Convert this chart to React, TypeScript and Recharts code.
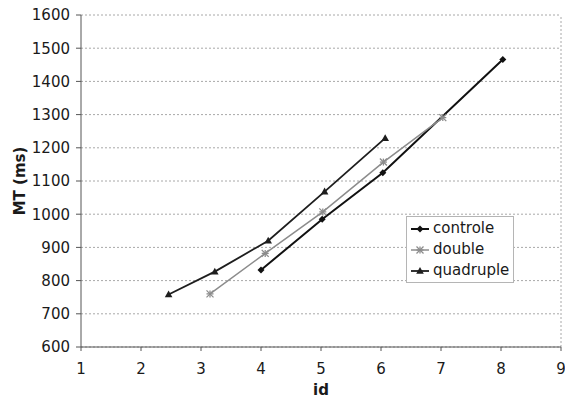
import React from "react";
import { LineChart, Line, XAxis, YAxis, CartesianGrid, Legend, ReferenceLine } from "recharts";

// id / MT (ms) per condition
const controleId = [4.0, 5.02, 6.03, 8.03];
const controleMt = [832, 985, 1125, 1466];
const doubleId = [3.15, 4.07, 5.03, 6.04, 7.03];
const doubleMt = [760, 882, 1007, 1157, 1291];
const quadrupleId = [2.46, 3.23, 4.12, 5.06, 6.07];
const quadrupleMt = [758, 827, 920, 1068, 1229];

const xTicks = [1, 2, 3, 4, 5, 6, 7, 8, 9];
const yTicks = [600, 700, 800, 900, 1000, 1100, 1200, 1300, 1400, 1500, 1600];

const FONT = "'DejaVu Sans', Verdana, sans-serif";
const INK = "#1a1a1a";

const toRows = (xs: number[], ys: number[]) => xs.map((id, i) => ({ id, mt: ys[i] }));

type Shape = "diamond" | "star" | "triangle";

function Marker({ cx, cy, shape, color }: { cx: number; cy: number; shape: Shape; color: string }) {
  if (cx == null || cy == null) return null;
  if (shape === "diamond") {
    return <path d={`M${cx},${cy - 3.5}L${cx + 3.5},${cy}L${cx},${cy + 3.5}L${cx - 3.5},${cy}Z`} fill={color} />;
  }
  if (shape === "triangle") {
    return <path d={`M${cx},${cy - 4}L${cx + 3.8},${cy + 2.8}L${cx - 3.8},${cy + 2.8}Z`} fill={color} />;
  }
  const r = 3.5;
  return (
    <g stroke={color} strokeWidth={1.3}>
      <line x1={cx - r} y1={cy - r} x2={cx + r} y2={cy + r} />
      <line x1={cx - r} y1={cy + r} x2={cx + r} y2={cy - r} />
      <line x1={cx - r} y1={cy} x2={cx + r} y2={cy} />
      <line x1={cx} y1={cy - r} x2={cx} y2={cy + r} />
    </g>
  );
}

const SERIES: { name: string; xs: number[]; ys: number[]; color: string; shape: Shape; width: number }[] = [
  { name: "controle", xs: controleId, ys: controleMt, color: "#111111", shape: "diamond", width: 2 },
  { name: "double", xs: doubleId, ys: doubleMt, color: "#8c8c8c", shape: "star", width: 1.5 },
  { name: "quadruple", xs: quadrupleId, ys: quadrupleMt, color: "#1e1e1e", shape: "triangle", width: 1.8 },
];

function LegendBox() {
  return (
    <div
      style={{
        border: "1px solid #b5b5b5",
        background: "#fff",
        padding: "1px 4px 1px 3px",
        fontFamily: FONT,
        fontSize: 15,
        color: INK,
        lineHeight: "21px",
      }}
    >
      {SERIES.map((s) => (
        <div key={s.name} style={{ display: "flex", alignItems: "center" }}>
          <svg width={20} height={12} style={{ marginRight: 3 }}>
            <line x1={1} y1={6} x2={19} y2={6} stroke={s.color} strokeWidth={s.width} />
            <Marker cx={10} cy={6} shape={s.shape} color={s.color} />
          </svg>
          <span>{s.name}</span>
        </div>
      ))}
    </div>
  );
}

export default function App() {
  const tick = { fontFamily: FONT, fontSize: 15, fill: INK };
  return (
    <div style={{ position: "absolute", left: 0, top: 0, background: "#fff" }}>
      <LineChart width={565} height={403} margin={{ top: 15, right: 4, bottom: 0, left: 0 }}>
        <CartesianGrid vertical={false} stroke="#a8a8a8" strokeDasharray="2 2" />
        <ReferenceLine x={9} stroke="#a8a8a8" strokeDasharray="2 2" />
        <XAxis
          type="number"
          dataKey="id"
          domain={[1, 9]}
          ticks={xTicks}
          allowDuplicatedCategory={false}
          height={56}
          stroke="#555"
          tickSize={4}
          tickMargin={12}
          tick={tick}
          label={{
            content: ({ viewBox }: any) => (
              <text
                x={viewBox.x + viewBox.width / 2}
                y={395}
                textAnchor="middle"
                fontFamily={FONT}
                fontSize={15}
                fontWeight="bold"
                fill={INK}
              >
                id
              </text>
            ),
          }}
        />
        <YAxis
          type="number"
          domain={[600, 1600]}
          ticks={yTicks}
          width={81}
          stroke="#555"
          tickSize={5}
          tickMargin={6}
          tick={tick}
          label={{
            content: ({ viewBox }: any) => {
              const cy = viewBox.y + viewBox.height / 2;
              return (
                <text
                  x={20}
                  y={cy}
                  transform={`rotate(-90 20 ${cy})`}
                  textAnchor="middle"
                  dominantBaseline="central"
                  fontFamily={FONT}
                  fontSize={15}
                  fontWeight="bold"
                  fill={INK}
                >
                  MT (ms)
                </text>
              );
            },
          }}
        />
        {SERIES.map((s) => (
          <Line
            key={s.name}
            name={s.name}
            data={toRows(s.xs, s.ys)}
            dataKey="mt"
            type="linear"
            stroke={s.color}
            strokeWidth={s.width}
            dot={(p: any) => <Marker key={`${s.name}-${p.index}`} cx={p.cx} cy={p.cy} shape={s.shape} color={s.color} />}
            activeDot={false}
            isAnimationActive={false}
          />
        ))}
        <Legend
          layout="vertical"
          align="center"
          verticalAlign="middle"
          wrapperStyle={{ left: 406, top: 216, width: "auto" }}
          content={() => <LegendBox />}
        />
      </LineChart>
    </div>
  );
}
